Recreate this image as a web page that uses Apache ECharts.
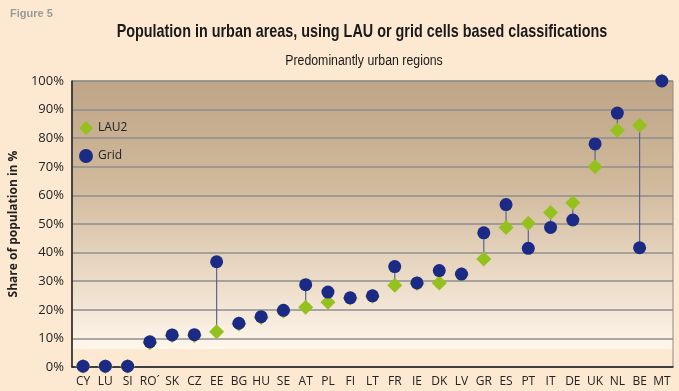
<!DOCTYPE html>
<html><head><meta charset="utf-8">
<script src="https://cdn.jsdelivr.net/npm/echarts@6/dist/echarts.min.js"></script>
<style>html,body{margin:0;padding:0;background:#fde9d1;}#c{width:679px;height:391px;}</style>
</head><body><div id="c"></div>
<script>
const categories = ['CY','LU','SI','RO´','SK','CZ','EE','BG','HU','SE','AT','PL','FI','LT','FR','IE','DK','LV','GR','ES','PT','IT','DE','UK','NL','BE','MT'];
const lau2 = [0.3,0.2,0.3,8.5,11,11,12.3,15,17.3,19.6,20.9,22.6,24,24.7,28.6,29.2,29.4,32.3,37.8,48.8,50.3,54,57.4,70,82.8,84.5,100];
const gridVals = [0.3,0.3,0.3,8.8,11.2,11.3,36.8,15.3,17.6,19.8,28.8,26.2,24.2,24.9,35.1,29.4,33.7,32.5,46.9,56.8,41.5,48.8,51.4,78,88.8,41.7,100];
const yTicks = [0,10,20,30,40,50,60,70,80,90,100];
const titleText = 'Population in urban areas, using LAU or grid cells based classifications';
const subtitleText = 'Predominantly urban regions';

const base = '"Liberation Sans",sans-serif';
const chart = echarts.init(document.getElementById('c'));
chart.setOption({
  backgroundColor: '#fde9d1',
  animation: false,
  title: [
    {text: 'Figure 5', left: 5, top: 3, textStyle: {fontSize: 11, fontWeight: 'bold', color: '#9a9a9a', fontFamily: base}}
  ],
  graphic: [
    {type: 'text', x: 362, y: 32, scaleX: 0.757, style: {text: titleText, font: 'bold 19px "Liberation Sans", sans-serif', fill: '#1a1a1a', textAlign: 'center', textVerticalAlign: 'middle'}},
    {type: 'text', x: 364, y: 61, scaleX: 0.88, style: {text: subtitleText, font: '14px "Liberation Sans", sans-serif', fill: '#1a1a1a', textAlign: 'center', textVerticalAlign: 'middle'}}
  ],
  legend: {
    data: [{name: 'LAU2', icon: 'diamond'}, {name: 'Grid', icon: 'circle'}],
    orient: 'vertical', left: 74, top: 116, itemWidth: 14, itemHeight: 14, itemGap: 14,
    textStyle: {fontSize: 12, color: '#222', fontFamily: '"Open Sans",sans-serif'}
  },
  grid: {
    left: 66, right: 6, top: 81, bottom: 24, show: true, borderColor: '#8c8c8c', borderWidth: 1,
    backgroundColor: {type: 'linear', x: 0, y: 0, x2: 0, y2: 1, colorStops: [
      {offset: 0, color: '#bea586'}, {offset: 0.35, color: '#d0b89b'}, {offset: 0.7, color: '#ecdcc8'},
      {offset: 0.935, color: '#fff6ec'}, {offset: 0.937, color: '#fde9d1'}, {offset: 1, color: '#fde9d1'}]}
  },
  xAxis: {
    type: 'category', data: categories, boundaryGap: true,
    axisLine: {lineStyle: {color: '#222', width: 1.5}}, axisTick: {show: false},
    axisLabel: {interval: 0, fontSize: 12, color: '#222', margin: 9, fontFamily: '"Open Sans",sans-serif'}
  },
  yAxis: {
    type: 'value', min: 0, max: 100, interval: 10,
    name: 'Share of population in %', nameLocation: 'middle', nameGap: 48, nameRotate: 90,
    nameTextStyle: {fontSize: 12, fontWeight: 'bold', color: '#222', fontFamily: '"Open Sans",sans-serif'},
    axisLine: {show: true, lineStyle: {color: '#222', width: 1.5}}, axisTick: {show: false},
    axisLabel: {formatter: v => yTicks.includes(v) ? v + '%' : '', fontSize: 13, color: '#222', margin: 8, fontFamily: '"Open Sans",sans-serif'},
    splitLine: {lineStyle: {color: '#8e8e8e', width: 1.5}}
  },
  series: [
    {
      type: 'custom', name: 'link', silent: true, z: 1,
      data: categories.map((c, i) => [i, lau2[i], gridVals[i]]),
      renderItem: function (params, api) {
        const a = api.coord([api.value(0), api.value(1)]);
        const b = api.coord([api.value(0), api.value(2)]);
        return {type: 'line', shape: {x1: a[0], y1: a[1], x2: b[0], y2: b[1]}, style: {stroke: '#5b6494', lineWidth: 1.2}};
      }
    },
    {type: 'scatter', name: 'LAU2', data: lau2, symbol: 'diamond', symbolSize: 15, z: 2, itemStyle: {color: '#95c11f', opacity: 1}},
    {type: 'scatter', name: 'Grid', data: gridVals, symbol: 'circle', symbolSize: 13, z: 3, itemStyle: {color: '#1b2a84', opacity: 1}}
  ]
});
</script></body></html>
